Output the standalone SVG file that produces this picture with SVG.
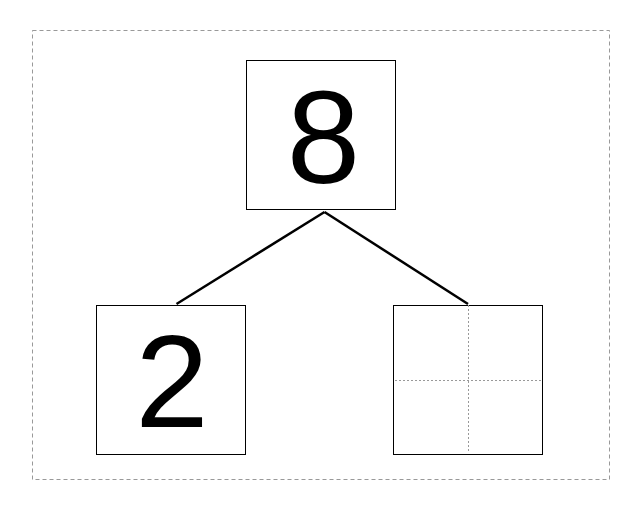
<svg xmlns="http://www.w3.org/2000/svg" width="642" height="511" viewBox="0 0 642 511">
<style>
.box{fill:#fff;stroke:#000;stroke-width:1}
.num{font-family:"Liberation Sans",Arial,sans-serif;font-size:132px;fill:#000;text-anchor:middle}
.frame{fill:none;stroke:#999;stroke-width:1;stroke-dasharray:4,3}
.grid{stroke:#999;stroke-width:1;stroke-dasharray:2,2}
.edge{stroke:#000;stroke-width:2.5;fill:none}
</style>
<rect x="32.5" y="30.5" width="577" height="449" class="frame"/>
<g id="connectors">
<line x1="176.5" y1="304" x2="324.5" y2="212" class="edge"/>
<line x1="324.5" y1="212" x2="468" y2="304" class="edge"/>
</g>
<g id="node-8">
<rect x="246.5" y="60.5" width="149" height="149" class="box"/>
<text x="323.5" y="182.5" class="num">8</text>
</g>
<g id="node-2">
<rect x="96.5" y="305.5" width="149" height="149" class="box"/>
<text x="172" y="426.5" class="num">2</text>
</g>
<g id="node-empty">
<rect x="393.5" y="305.5" width="149" height="149" class="box"/>
<line x1="468.5" y1="305" x2="468.5" y2="453" class="grid"/>
<line x1="395" y1="380.5" x2="541" y2="380.5" class="grid"/>
</g>
</svg>
